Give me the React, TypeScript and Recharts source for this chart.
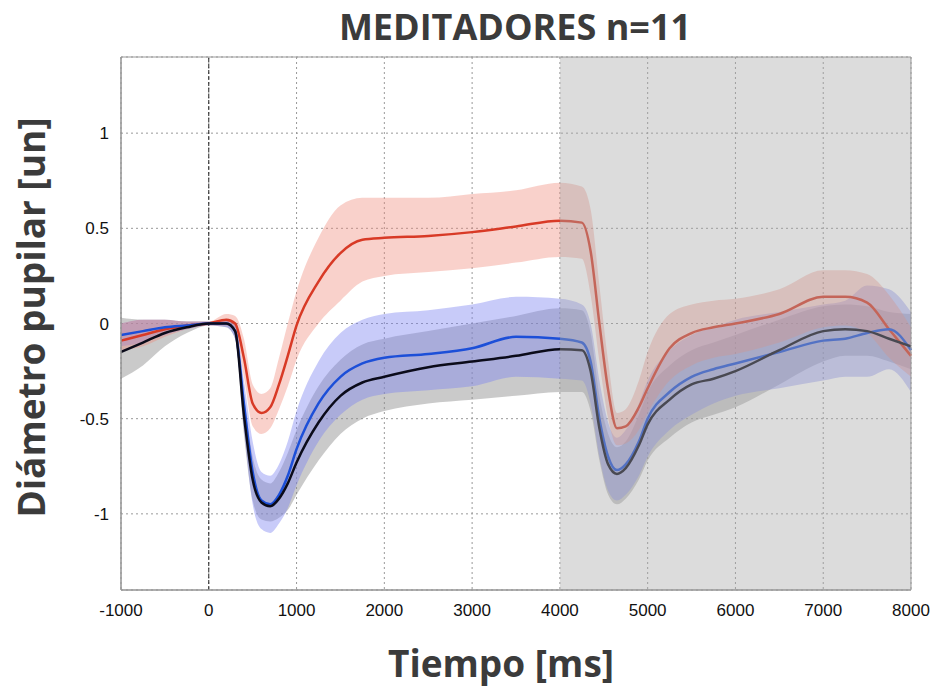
import {
  ComposedChart,
  Area,
  Line,
  XAxis,
  YAxis,
  CartesianGrid,
  ReferenceArea,
  ReferenceLine,
  Label,
} from "recharts";

const times = [
  -1000, -750, -500, -250, 0, 200, 300, 400, 500, 600, 700, 800, 900, 1000,
  1250, 1500, 1750, 2000, 2500, 3000, 3500, 4000, 4250, 4350, 4450, 4550, 4650,
  4750, 4900, 5000, 5250, 5500, 5750, 6000, 6500, 7000, 7250, 7500, 7750, 8000,
];

const redMean = [
  -0.09, -0.06, -0.03, -0.01, 0, 0.02, 0.0, -0.18, -0.42, -0.47, -0.44, -0.32,
  -0.17, -0.01, 0.22, 0.37, 0.44, 0.45, 0.46, 0.48, 0.51, 0.54, 0.53, 0.38, 0.0,
  -0.35, -0.55, -0.54, -0.44, -0.34, -0.13, -0.05, -0.02, 0.0, 0.05, 0.14, 0.14,
  0.11, -0.03, -0.17,
];
const redHi = [
  0.0, 0.02, 0.02, 0.01, 0.01, 0.05, 0.04, -0.08, -0.32, -0.37, -0.34, -0.18,
  0.0, 0.17, 0.45, 0.62, 0.66, 0.66, 0.66, 0.68, 0.7, 0.74, 0.72, 0.6, 0.2,
  -0.2, -0.47, -0.45, -0.3, -0.15, 0.05, 0.1, 0.12, 0.13, 0.18, 0.28, 0.28,
  0.26, 0.15, -0.02,
];
const redLo = [
  -0.14, -0.12, -0.07, -0.03, -0.01, -0.01, -0.04, -0.28, -0.54, -0.58, -0.55,
  -0.45, -0.33, -0.19, 0.0, 0.12, 0.22, 0.25, 0.27, 0.29, 0.32, 0.35, 0.34,
  0.15, -0.2, -0.5, -0.64, -0.63, -0.56, -0.47, -0.3, -0.22, -0.18, -0.16, -0.1,
  -0.02, -0.01, -0.05, -0.18, -0.28,
];

const blueMean = [
  -0.06, -0.04, -0.02, -0.01, 0, 0, -0.04, -0.42, -0.78, -0.93, -0.95, -0.9,
  -0.8, -0.66, -0.42, -0.28, -0.21, -0.18, -0.16, -0.13, -0.07, -0.08, -0.1,
  -0.2, -0.5, -0.7, -0.77, -0.74, -0.62, -0.5, -0.36, -0.28, -0.24, -0.21,
  -0.15, -0.09, -0.08, -0.05, -0.03, -0.14,
];
const blueHi = [
  0.0, 0.02, 0.02, 0.01, 0.01, 0.02, 0.0, -0.3, -0.62, -0.78, -0.8, -0.74,
  -0.62, -0.46, -0.2, -0.05, 0.02, 0.05, 0.07, 0.1, 0.14, 0.13, 0.1, 0.0, -0.3,
  -0.52, -0.6, -0.56, -0.42, -0.3, -0.14, -0.06, -0.02, 0.02, 0.06, 0.1, 0.12,
  0.2, 0.18, 0.06,
];
const blueLo = [
  -0.12, -0.1, -0.06, -0.03, -0.01, -0.02, -0.08, -0.55, -0.95, -1.08, -1.1,
  -1.05, -0.97, -0.85, -0.62, -0.48, -0.4, -0.37, -0.35, -0.33, -0.28, -0.29,
  -0.3, -0.42, -0.7, -0.88, -0.93, -0.9, -0.8, -0.7, -0.56, -0.48, -0.42, -0.38,
  -0.34, -0.3, -0.28, -0.28, -0.24, -0.36,
];

const blackMean = [
  -0.15, -0.1, -0.05, -0.02, 0, 0, -0.04, -0.48, -0.82, -0.94, -0.96, -0.92,
  -0.84, -0.73, -0.52, -0.38, -0.31, -0.28, -0.23, -0.2, -0.17, -0.135, -0.14,
  -0.25, -0.55, -0.74, -0.79, -0.76, -0.64, -0.53, -0.4, -0.32, -0.29, -0.25,
  -0.14, -0.04, -0.03, -0.04, -0.08, -0.12,
];
const blackHi = [
  0.03, 0.02, 0.02, 0.01, 0.01, 0.02, 0.0, -0.38, -0.7, -0.82, -0.84, -0.78,
  -0.68, -0.56, -0.33, -0.19, -0.11, -0.08, -0.04, 0.0, 0.04, 0.08, 0.07, -0.05,
  -0.38, -0.58, -0.65, -0.62, -0.48, -0.36, -0.22, -0.14, -0.1, -0.06, 0.02,
  0.09, 0.1, 0.09, 0.06, 0.05,
];
const blackLo = [
  -0.29, -0.22, -0.12, -0.05, -0.01, -0.02, -0.08, -0.58, -0.93, -1.03, -1.04,
  -1.02, -0.98, -0.9, -0.72, -0.58, -0.5, -0.46, -0.42, -0.4, -0.38, -0.36,
  -0.36, -0.46, -0.72, -0.9, -0.95, -0.92, -0.82, -0.72, -0.6, -0.52, -0.48,
  -0.44, -0.32, -0.2, -0.17, -0.17, -0.2, -0.24,
];

const xTicks = [-1000, 0, 1000, 2000, 3000, 4000, 5000, 6000, 7000, 8000];
const yTicks = [-1, -0.5, 0, 0.5, 1];

const rows = times.map((t, i) => ({
  t,
  red: redMean[i],
  redBand: [redLo[i], redHi[i]],
  blue: blueMean[i],
  blueBand: [blueLo[i], blueHi[i]],
  black: blackMean[i],
  blackBand: [blackLo[i], blackHi[i]],
}));

const tickStyle = { fontFamily: "Liberation Sans, Arial", fontSize: 17, fill: "#111" };
const labelFont = "'Open Sans', 'Noto Sans', sans-serif";

export default function App() {
  return (
    <div style={{ position: "relative", width: 941, height: 695, margin: -8, background: "#fff" }}>
      <div
        style={{
          position: "absolute",
          top: 2,
          left: 120,
          width: 790,
          textAlign: "center",
          fontFamily: labelFont,
          fontWeight: 700,
          fontSize: 36,
          lineHeight: "50px",
          color: "#3b3b3b",
        }}
      >
        MEDITADORES n=11
      </div>
      <ComposedChart
        width={941}
        height={695}
        data={rows}
        margin={{ top: 57, right: 30, bottom: 0, left: 0 }}
      >
        <CartesianGrid stroke="#999" strokeDasharray="2 3" />
        <XAxis
          dataKey="t"
          type="number"
          domain={[-1000, 8000]}
          ticks={xTicks}
          height={105}
          tickLine={false}
          axisLine={{ stroke: "#888" }}
          tick={tickStyle}
          tickMargin={8}
        >
          <Label
            value="Tiempo [ms]"
            position="insideBottom"
            offset={18}
            dx={-15}
            style={{ fontFamily: labelFont, fontWeight: 700, fontSize: 37, fill: "#3b3b3b" }}
          />
        </XAxis>
        <YAxis
          type="number"
          domain={[-1.4, 1.4]}
          ticks={yTicks}
          width={121}
          tickLine={false}
          axisLine={{ stroke: "#888" }}
          tick={tickStyle}
          tickMargin={6}
        >
          <Label
            value="Diámetro pupilar [un]"
            angle={-90}
            position="insideLeft"
            offset={32}
            dy={-6}
            style={{ textAnchor: "middle", fontFamily: labelFont, fontWeight: 700, fontSize: 37, fill: "#3b3b3b" }}
          />
        </YAxis>
        <ReferenceLine x={0} stroke="#222" strokeDasharray="4 2" />
        <Area
          dataKey="blackBand"
          type="monotone"
          stroke="none"
          fill="#8a8a8a"
          fillOpacity={0.45}
          isAnimationActive={false}
        />
        <Area
          dataKey="blueBand"
          type="monotone"
          stroke="none"
          fill="#7c84f0"
          fillOpacity={0.42}
          isAnimationActive={false}
        />
        <Area
          dataKey="redBand"
          type="monotone"
          stroke="none"
          fill="#ef8676"
          fillOpacity={0.38}
          isAnimationActive={false}
        />
        <Line dataKey="red" type="monotone" stroke="#d83a26" strokeWidth={2.5} dot={false} isAnimationActive={false} />
        <Line dataKey="blue" type="monotone" stroke="#1c4fd8" strokeWidth={2.5} dot={false} isAnimationActive={false} />
        <Line dataKey="black" type="monotone" stroke="#0b0b1a" strokeWidth={2.5} dot={false} isAnimationActive={false} />
        <ReferenceArea
          x1={4000}
          x2={8000}
          y1={-1.4}
          y2={1.4}
          fill="#a8a8a8"
          fillOpacity={0.4}
          stroke="none"
          zIndex={1000}
        />
        <ReferenceArea
          x1={-1000}
          x2={8000}
          y1={-1.4}
          y2={1.4}
          fill="none"
          stroke="#999"
          zIndex={1001}
        />
      </ComposedChart>
    </div>
  );
}
